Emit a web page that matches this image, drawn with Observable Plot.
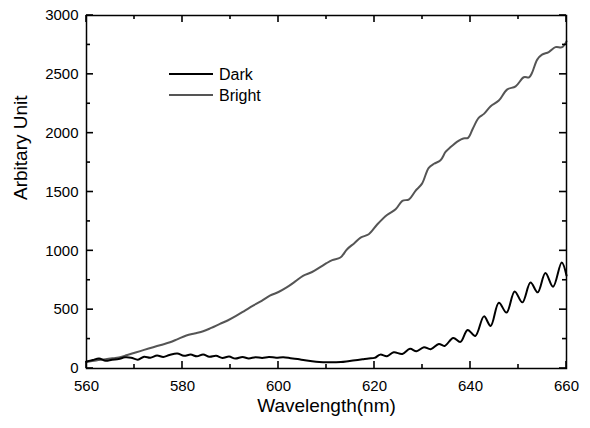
<!DOCTYPE html>
<html>
<head>
<meta charset="utf-8">
<script src="https://cdn.jsdelivr.net/npm/d3@7"></script>
<script src="https://cdn.jsdelivr.net/npm/@observablehq/plot@0.6"></script>
<style>
  html, body { margin: 0; padding: 0; background: #fff; }
  svg { display: block; }
</style>
</head>
<body>
<div id="chart"></div>
<script>
// ---- data ----
const darkNm = [560, 561.3, 562.6, 564, 565.3, 566.7, 568, 569.3, 570.7, 572, 573.3, 574.7, 576, 577.3, 578.9,
  580.3, 581.7, 583, 584.3, 585.6, 587, 588.3, 589.7, 591, 592.5, 593.8, 595.2, 596.6, 598, 599.5,
  601, 602.5, 604, 605.5, 607, 608.5, 610, 611.5, 613, 614.5, 616, 617.5, 618.8, 620,
  621.2, 622.6, 624.0, 625.8, 627.4, 628.75, 630.3, 631.7, 633.4, 634.6, 636.4, 637.9, 639.4, 641.0,
  642.8, 644.2, 645.9, 647.5, 649.2, 650.8, 652.5, 654.0, 655.6, 657.2, 659.0, 660];
const darkVal = [60, 72, 85, 65, 75, 80, 95, 92, 75, 100, 92, 110, 98, 115, 128,
  108, 118, 104, 120, 100, 108, 90, 102, 84, 98, 86, 96, 90, 98, 92,
  95, 88, 80, 70, 62, 56, 53, 54, 55, 62, 70, 78, 85, 90,
  118, 105, 138, 124, 167, 147, 181, 164, 209, 192, 260, 226, 328, 277,
  443, 362, 559, 475, 655, 562, 731, 647, 811, 695, 901, 790];

const brightNm = [560, 562, 564, 566, 567, 568.5, 570.4, 572, 573.9, 575.5, 577.4, 579, 580.8, 582.5, 584.3,
  586, 587.8, 589.5, 591.25, 593, 594.7, 596.5, 598.2, 600, 601.7, 603.5, 605.1, 607, 608.6, 610,
  611.2, 612.9, 614.3, 615.8, 617.1, 618.8, 620.6, 622.6, 624.4, 625.8, 627.2, 628.5, 629.9, 631.3,
  632.4, 633.75, 634.8, 635.8, 637.5, 638.5, 639.5, 640.5, 641.7, 642.8, 644.2, 645.9, 647.6, 649.4,
  651.1, 652.2, 652.8, 653.9, 654.9, 656.3, 657.7, 659.1, 660];
const brightVal = [55, 68, 78, 90, 96, 115, 138, 158, 181, 200, 223, 250, 280, 298, 316,
  345, 379, 410, 449, 492, 534, 575, 619, 650, 689, 740, 788, 820, 859, 895,
  921, 943, 1014, 1065, 1113, 1141, 1226, 1305, 1353, 1424, 1438, 1508, 1571, 1706,
  1740, 1769, 1840, 1880, 1935, 1955, 1960, 2040, 2130, 2164, 2229, 2277, 2370, 2398,
  2475, 2475, 2511, 2625, 2667, 2689, 2731, 2731, 2780];

const seriesNames = ["Dark", "Bright"];
const seriesColors = ["#000000", "#555555"];

const xTicks = [560, 580, 600, 620, 640, 660];
const xMinor = [570, 590, 610, 630, 650];
const yTicks = [0, 500, 1000, 1500, 2000, 2500, 3000];
const yMinor = [250, 750, 1250, 1750, 2250, 2750];

const xLabel = "Wavelength(nm)";
const yLabel = "Arbitary Unit";

// ---- build ----
const darkData = darkNm.map((nm, i) => ({nm, v: darkVal[i]}));
const brightData = brightNm.map((nm, i) => ({nm, v: brightVal[i]}));

const W = 590, H = 428, mL = 86, mR = 24, mT = 15, mB = 60;
const major = 7, minor = 4;
const font = "'Liberation Sans', Arial, Helvetica, sans-serif";

const chart = Plot.plot({
  width: W, height: H,
  marginLeft: mL, marginRight: mR, marginTop: mT, marginBottom: mB,
  style: {fontFamily: font, fontSize: "15px", background: "#fff", color: "#000"},
  x: {domain: [560, 660]},
  y: {domain: [0, 3000]},
  marks: [
    Plot.line(brightData, {x: "nm", y: "v", stroke: seriesColors[1], strokeWidth: 2, curve: "catmull-rom"}),
    Plot.line(darkData, {x: "nm", y: "v", stroke: seriesColors[0], strokeWidth: 2, curve: "catmull-rom"}),
    Plot.frame({stroke: "#000", strokeWidth: 1.5}),
    Plot.axisX(xTicks, {tickSize: 0, tickPadding: 12, fontSize: 15, label: null, tickFormat: d => String(d)}),
    Plot.axisY(yTicks, {tickSize: 0, tickPadding: 8, fontSize: 15, label: null, tickFormat: d => String(d)}),
    Plot.text([xLabel], {frameAnchor: "bottom", dy: 43, fontSize: 19, text: d => d}),
    Plot.text([yLabel], {frameAnchor: "left", dx: -66, dy: 8, rotate: -90, fontSize: 19, text: d => d})
  ]
});

// inward ticks on all four sides, placed with the plot's own scales
const sx = chart.scale("x"), sy = chart.scale("y");
const x0 = mL, x1 = W - mR, y0 = mT, y1 = H - mB;
const svg = d3.select(chart);
const tg = svg.append("g").attr("stroke", "#000").attr("stroke-width", 1.6);
const addX = (vals, len) => vals.forEach(v => {
  const px = sx.apply(v);
  tg.append("line").attr("x1", px).attr("x2", px).attr("y1", y1).attr("y2", y1 - len);
  tg.append("line").attr("x1", px).attr("x2", px).attr("y1", y0).attr("y2", y0 + len);
});
const addY = (vals, len) => vals.forEach(v => {
  const py = sy.apply(v);
  tg.append("line").attr("y1", py).attr("y2", py).attr("x1", x0).attr("x2", x0 + len);
  tg.append("line").attr("y1", py).attr("y2", py).attr("x1", x1).attr("x2", x1 - len);
});
addX(xTicks, major); addX(xMinor, minor);
addY(yTicks, major); addY(yMinor, minor);

// legend inside the plot area
const lg = svg.append("g").attr("font-family", font).attr("font-size", 16);
seriesNames.forEach((name, i) => {
  const y = 74 + i * 21;
  lg.append("line").attr("x1", 169).attr("x2", 213).attr("y1", y).attr("y2", y)
    .attr("stroke", seriesColors[i]).attr("stroke-width", 2);
  lg.append("text").attr("x", 219).attr("y", y).attr("dy", "0.35em")
    .attr("text-anchor", "start").attr("fill", "#000").text(name);
});

document.getElementById("chart").appendChild(chart);
</script>
</body>
</html>
